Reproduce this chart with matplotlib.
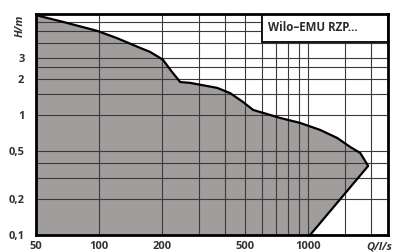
import numpy as np
import matplotlib as mpl
mpl.use("Agg")
import matplotlib.pyplot as plt
from matplotlib.patches import Rectangle
from matplotlib.ticker import FixedLocator, FixedFormatter, NullLocator

###################################
# data
###################################

# pump envelope (Q in l/s, H in m)
curve_q = [50, 67.6, 98.3, 122.5, 157.7, 176, 196, 203, 224, 245, 273, 368, 424, 489,
           546, 610, 734, 915, 1140, 1374, 1585, 1770, 1930, 1020]
curve_h = [6.8, 5.96, 5.02, 4.36, 3.62, 3.35, 2.99, 2.87, 2.28, 1.88, 1.85, 1.68, 1.52, 1.28,
           1.10, 1.04, 0.944, 0.858, 0.75, 0.643, 0.541, 0.482, 0.376, 0.1]

x_grid = [100, 200, 300, 400, 500, 600, 700, 800, 900, 1000, 1500, 2000]
y_grid = [0.2, 0.3, 0.4, 0.5, 1, 1.5, 2, 2.5, 3, 4, 5, 6]

x_ticks = [50, 100, 200, 500, 1000]
x_labels = ['50', '100', '200', '500', '1000']
y_ticks = [0.1, 0.2, 0.5, 1, 2, 3]
y_labels = ['0,1', '0,2', '0,5', '1', '2', '3']

title = 'Wilo\u2013EMU RZP...'

###################################
# plot
###################################

W, H = 393, 252
fig = plt.figure(figsize=(W / 100, H / 100), dpi=100)
ax = fig.add_axes([35.5 / W, 1 - 235 / H, (388 - 35.5) / W, (235 - 13.5) / H])
ax.set_xscale('log')
ax.set_yscale('log')
ax.set_xlim(50, 2400)
ax.set_ylim(0.1, 7)

# filled operating range
poly_q = [curve_q[0]] + curve_q
poly_h = [0.1] + curve_h
ax.fill(poly_q, poly_h, color='#a19d9d', lw=0, zorder=0.5)
ax.plot(curve_q, curve_h, color='black', lw=1.6, zorder=3,
        solid_joinstyle='round', solid_capstyle='round')

for q in x_grid:
    ax.axvline(q, color='#3a3a3a', lw=0.8, zorder=1)
for h in y_grid:
    ax.axhline(h, color='#3a3a3a', lw=0.8, zorder=1)

# label box, top right
ax.add_patch(Rectangle((0.6426, 0.871), 0.3574, 0.129, transform=ax.transAxes,
                       facecolor='white', edgecolor='black', lw=1.3, zorder=4))
ax.text(0.66, 0.935, title, transform=ax.transAxes, ha='left', va='center',
        fontsize=8.3, fontweight='bold', family='Open Sans', color='#2a2a2a', zorder=5)

for s in ax.spines.values():
    s.set_linewidth(2)
    s.set_zorder(6)

ax.xaxis.set_major_locator(FixedLocator(x_ticks))
ax.xaxis.set_major_formatter(FixedFormatter(x_labels))
ax.xaxis.set_minor_locator(NullLocator())
ax.yaxis.set_major_locator(FixedLocator(y_ticks))
ax.yaxis.set_major_formatter(FixedFormatter(y_labels))
ax.yaxis.set_minor_locator(NullLocator())
ax.tick_params(length=0, labelsize=8, labelcolor='#333333')
ax.tick_params(axis='x', pad=4)
ax.tick_params(axis='y', pad=8)
for lab in ax.get_xticklabels() + ax.get_yticklabels():
    lab.set_fontfamily('Open Sans')
    lab.set_fontweight('bold')

fig.text(379 / W, 1 - 247 / H, 'Q/l/s', ha='center', va='center', fontsize=8,
         fontweight='bold', fontstyle='italic', family='Open Sans', color='#333333')
fig.text(20 / W, 1 - 26 / H, 'H/m', ha='center', va='center', rotation=90, fontsize=8,
         fontweight='bold', fontstyle='italic', family='Open Sans', color='#333333')

fig.savefig('out.png', dpi=100)
